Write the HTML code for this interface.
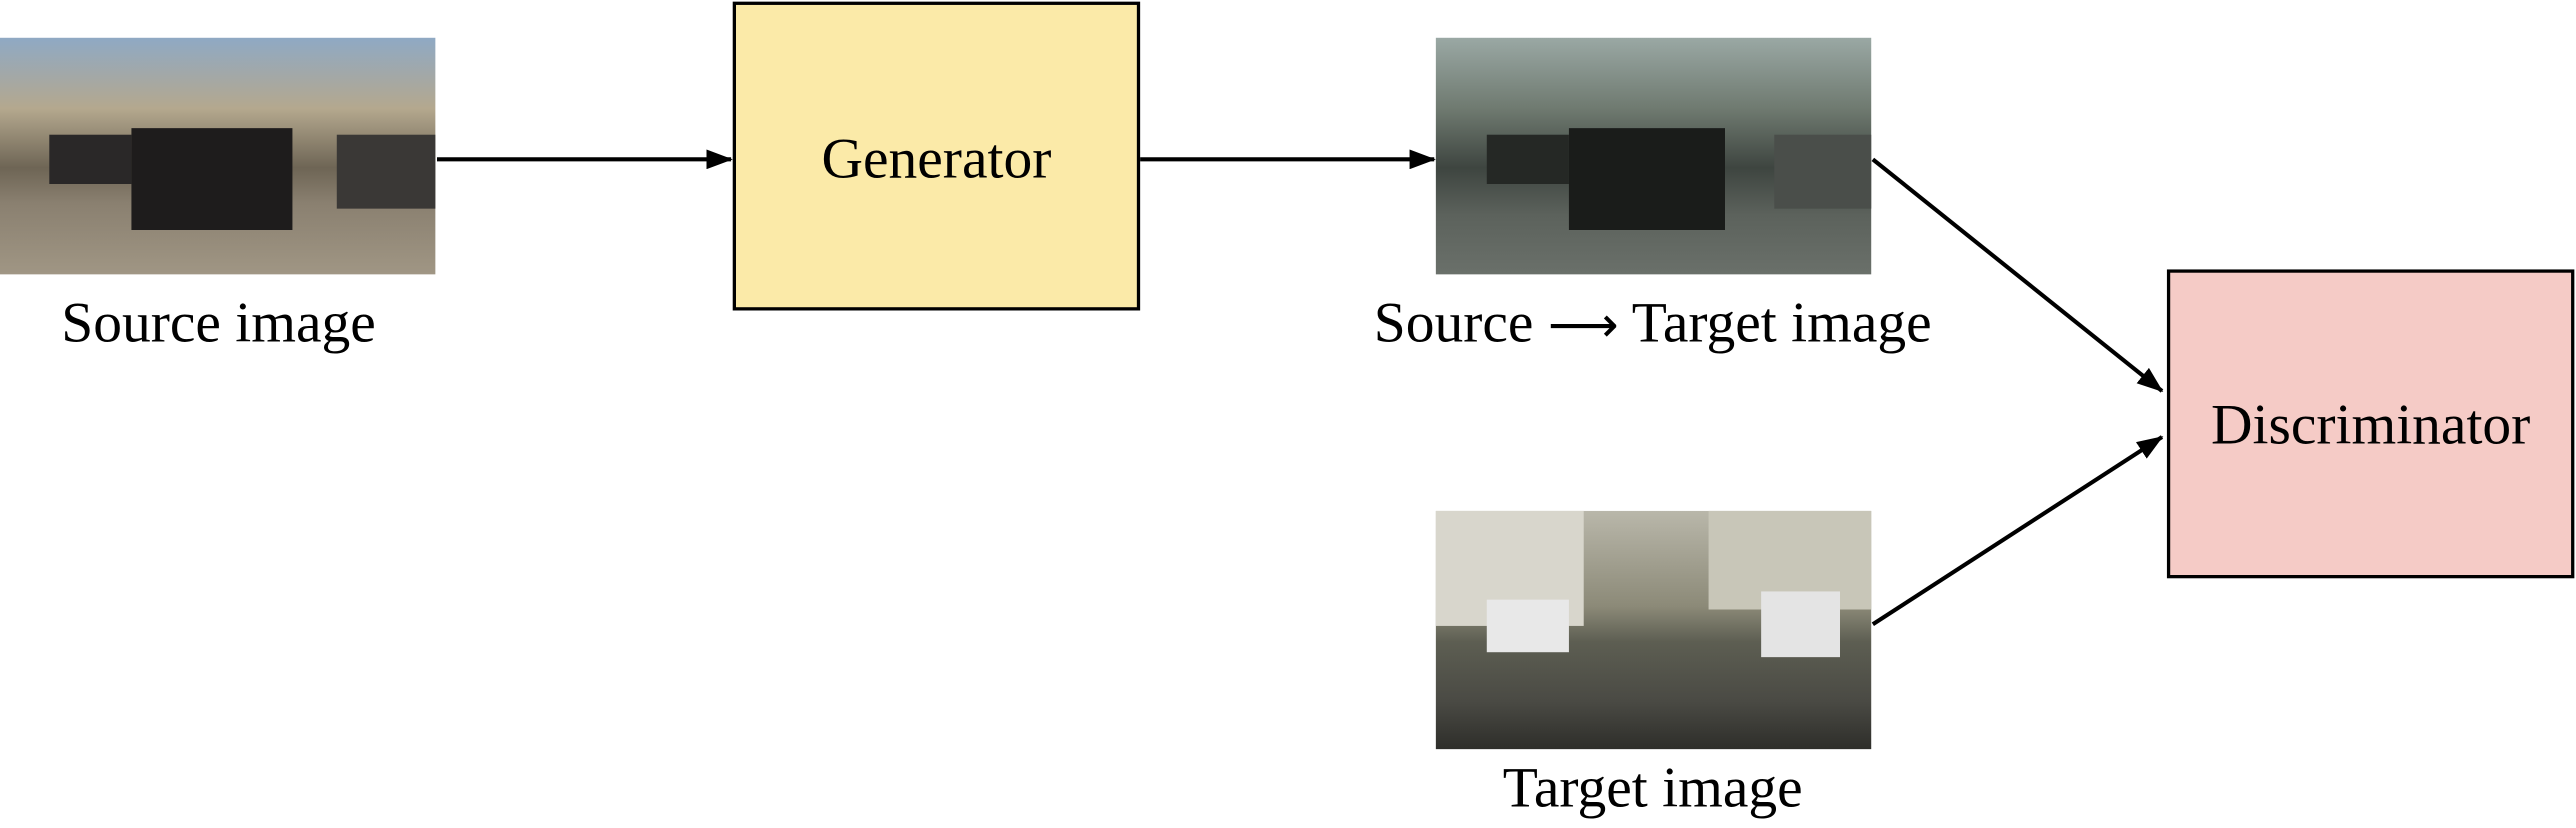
<!DOCTYPE html>
<html><head><meta charset="utf-8"><style>
html,body{margin:0;padding:0;background:#fff;}
svg{display:block;}
text{font-family:"Liberation Serif",serif;fill:#000;}
</style></head><body>
<svg width="2576" height="828" viewBox="0 0 1568 504" preserveAspectRatio="none">
<defs>
<marker id="ah" markerWidth="16" markerHeight="12" refX="15" refY="6" orient="auto" markerUnits="userSpaceOnUse">
<path d="M0,0 L16,6 L0,12 Z" fill="#000"/></marker>
<linearGradient id="src" x1="0" y1="0" x2="0" y2="1">
<stop offset="0" stop-color="#8fa9c4"/><stop offset="0.3" stop-color="#b4a88e"/><stop offset="0.55" stop-color="#6e6555"/><stop offset="0.7" stop-color="#8a8070"/><stop offset="1" stop-color="#a09684"/></linearGradient>
<linearGradient id="s2t" x1="0" y1="0" x2="0" y2="1">
<stop offset="0" stop-color="#9aa8a4"/><stop offset="0.3" stop-color="#6f7a70"/><stop offset="0.55" stop-color="#3e4540"/><stop offset="0.75" stop-color="#5c625c"/><stop offset="1" stop-color="#6a706a"/></linearGradient>
<linearGradient id="tgt" x1="0" y1="0" x2="0" y2="1">
<stop offset="0" stop-color="#b9b7aa"/><stop offset="0.4" stop-color="#8c8a78"/><stop offset="0.55" stop-color="#5d5e52"/><stop offset="0.8" stop-color="#4a4a44"/><stop offset="1" stop-color="#2e2e2a"/></linearGradient>
</defs>

<g>
<rect x="0" y="23" width="265" height="144" fill="url(#src)"/>
<rect x="80" y="78" width="98" height="62" fill="#1e1c1c"/>
<rect x="30" y="82" width="50" height="30" fill="#2a2828"/>
<rect x="205" y="82" width="60" height="45" fill="#3a3836"/>
</g>
<text x="133" y="208" font-size="35" text-anchor="middle">Source image</text>

<line x1="266" y1="97" x2="445" y2="97" stroke="#000" stroke-width="2.5" marker-end="url(#ah)"/>

<rect x="447" y="2" width="246" height="186" fill="#fbeaa8" stroke="#000" stroke-width="2"/>
<text x="570" y="108" font-size="35" text-anchor="middle">Generator</text>

<line x1="694" y1="97" x2="873" y2="97" stroke="#000" stroke-width="2.5" marker-end="url(#ah)"/>

<g>
<rect x="874" y="23" width="265" height="144" fill="url(#s2t)"/>
<rect x="955" y="78" width="95" height="62" fill="#1a1c1a"/>
<rect x="905" y="82" width="50" height="30" fill="#252825"/>
<rect x="1080" y="82" width="59" height="45" fill="#4a4e4a"/>
</g>
<text x="1006" y="208" font-size="35" text-anchor="middle">Source <tspan font-family="DejaVu Sans" font-size="30">⟶</tspan> Target image</text>

<g>
<rect x="874" y="311" width="265" height="145" fill="url(#tgt)"/>
<rect x="874" y="311" width="90" height="70" fill="#d8d6cc"/>
<rect x="1040" y="311" width="99" height="60" fill="#c8c6b8"/>
<rect x="905" y="365" width="50" height="32" fill="#e8e8e8"/>
<rect x="1072" y="360" width="48" height="40" fill="#e4e4e4"/>
</g>
<text x="1006" y="491" font-size="35" text-anchor="middle">Target image</text>

<line x1="1140" y1="97" x2="1316" y2="238" stroke="#000" stroke-width="2.5" marker-end="url(#ah)"/>
<line x1="1140" y1="380" x2="1316" y2="266" stroke="#000" stroke-width="2.5" marker-end="url(#ah)"/>

<rect x="1320" y="165" width="246" height="186" fill="#f5cbc6" stroke="#000" stroke-width="2"/>
<text x="1443" y="270" font-size="35" text-anchor="middle">Discriminator</text>
</svg>
</body></html>
